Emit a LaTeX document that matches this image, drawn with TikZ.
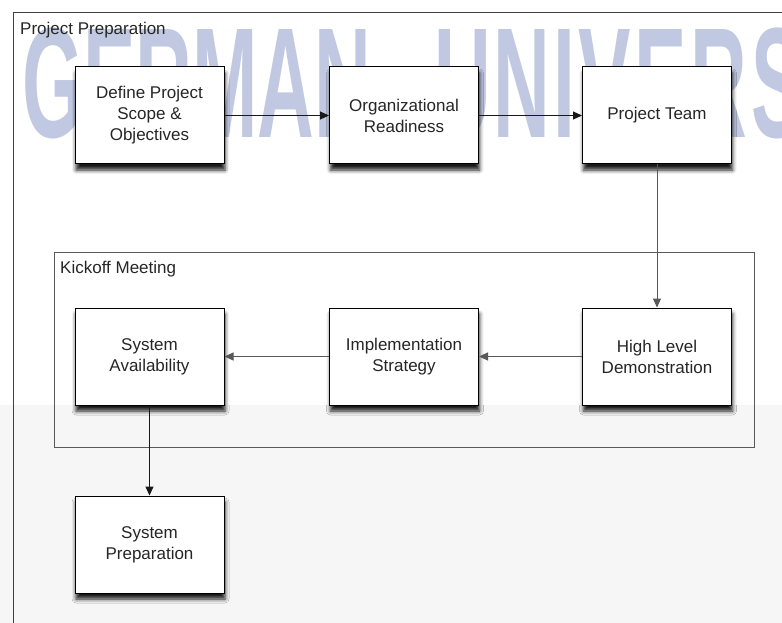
\documentclass[tikz,border=0pt]{standalone}
\usepackage{fontspec}
\setmainfont{Liberation Sans}
\usetikzlibrary{arrows.meta,shadows.blur}
\definecolor{wmark}{RGB}{193,200,225}
\definecolor{lowgrey}{RGB}{246,246,246}
\tikzset{
  stagebox/.style={draw=black, line width=1pt, fill=white, text=black!85,
    minimum width=149pt, minimum height=97pt, align=center,
    font=\fontsize{17}{21}\selectfont,
    blur shadow={shadow xshift=1pt, shadow yshift=-6pt, shadow blur radius=4pt, shadow opacity=90}},
  phaselabel/.style={anchor=west, inner sep=0pt, text=black!85, font=\fontsize{17}{21}\selectfont},
  darkflow/.style={-{Triangle[length=9pt,width=8pt]}, line width=1pt, black!90},
  greyflow/.style={-{Triangle[length=9pt,width=8pt]}, line width=1pt, black!65},
}
\begin{document}
\begin{tikzpicture}[x=1pt,y=-1pt]
\useasboundingbox (0,0) rectangle (782,623);
\clip (0,0) rectangle (782,623);
\fill[lowgrey] (0,405) rectangle (782,623);
\node[text=wmark, anchor=south west, inner sep=0pt, xscale=0.5,
  font=\bfseries\fontsize{157}{157}\selectfont] (watermark) at (22,139) {GERMAN\hspace{128pt}U\hspace{4pt}N\hspace{6pt}I\hspace{6pt}V\hspace{8pt}E\hspace{8pt}R\hspace{8pt}S};
\draw[black!75, line width=1pt] (13,13) rectangle (800,640);
\node[phaselabel] (prep label) at (20,30) {Project Preparation};
\draw[black!65, line width=1pt] (54,252) rectangle (754,447);
\node[phaselabel] (kickoff label) at (60,269) {Kickoff Meeting};
\node[stagebox] (scope) at (149.5,115.5) {Define Project\\Scope \&\\Objectives};
\node[stagebox] (readiness) at (404,115.5) {Organizational\\Readiness};
\node[stagebox] (team) at (657,115.5) {Project Team};
\node[stagebox] (demo) at (657,356.5) {High Level\\Demonstration};
\node[stagebox] (strategy) at (404,356.5) {Implementation\\Strategy};
\node[stagebox] (avail) at (149.5,356.5) {System\\Availability};
\node[stagebox] (sysprep) at (149.5,544.5) {System\\Preparation};
\draw[darkflow] (scope) -- (readiness);
\draw[darkflow] (readiness) -- (team);
\draw[greyflow] (team) -- (demo);
\draw[greyflow] (demo) -- (strategy);
\draw[greyflow] (strategy) -- (avail);
\draw[darkflow] (avail) -- (sysprep);
\end{tikzpicture}
\end{document}
